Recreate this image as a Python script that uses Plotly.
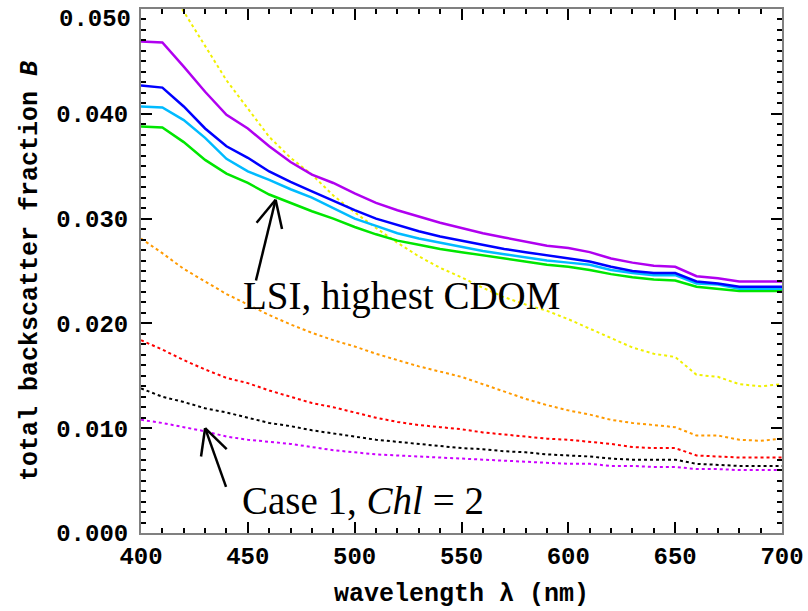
import plotly.graph_objects as go

# wavelength grid (nm)
wavelength = [400, 410, 420, 430, 440, 450, 460, 470, 480, 490, 500,
              510, 520, 530, 540, 550, 560, 570, 580, 590, 600,
              610, 620, 630, 640, 650, 660, 670, 680, 690, 700]

# solid curves (LSI)
lsi_purple = [0.0469, 0.0468, 0.0445, 0.0421, 0.0399, 0.0386, 0.0369, 0.0354, 0.0342, 0.0334, 0.0324,
              0.0315, 0.0308, 0.0302, 0.0296, 0.0291, 0.0286, 0.0282, 0.0278, 0.0274, 0.0272,
              0.0268, 0.0262, 0.0258, 0.0255, 0.0254, 0.0245, 0.0243, 0.0240, 0.0240, 0.0240]
lsi_blue = [0.0427, 0.0425, 0.0407, 0.0386, 0.0369, 0.0358, 0.0345, 0.0335, 0.0326, 0.0317, 0.0308,
            0.0300, 0.0294, 0.0288, 0.0283, 0.0279, 0.0275, 0.0271, 0.0268, 0.0265, 0.0262,
            0.0259, 0.0254, 0.0250, 0.0248, 0.0248, 0.0240, 0.0238, 0.0235, 0.0235, 0.0235]
lsi_cyan = [0.0407, 0.0406, 0.0394, 0.0377, 0.0357, 0.0345, 0.0337, 0.0328, 0.0320, 0.0310, 0.0300,
            0.0293, 0.0286, 0.0281, 0.0277, 0.0273, 0.0269, 0.0266, 0.0263, 0.0260, 0.0258,
            0.0256, 0.0251, 0.0248, 0.0246, 0.0246, 0.0238, 0.0237, 0.0233, 0.0233, 0.0233]
lsi_green = [0.0388, 0.0387, 0.0373, 0.0356, 0.0343, 0.0334, 0.0323, 0.0315, 0.0307, 0.0300, 0.0292,
             0.0285, 0.0279, 0.0275, 0.0271, 0.0268, 0.0265, 0.0262, 0.0259, 0.0256, 0.0254,
             0.0251, 0.0247, 0.0244, 0.0242, 0.0241, 0.0235, 0.0233, 0.0231, 0.0231, 0.0231]

# dotted curves (Case 1 / CDOM variants)
dot_yellow = [0.0563, 0.0530, 0.0497, 0.0464, 0.0432, 0.0405, 0.0378, 0.0358, 0.0342, 0.0322, 0.0306,
              0.0291, 0.0277, 0.0264, 0.0253, 0.0244, 0.0234, 0.0225, 0.0218, 0.0212, 0.0204,
              0.0195, 0.0186, 0.0177, 0.0171, 0.0168, 0.0151, 0.0149, 0.0142, 0.0140, 0.0142]
dot_orange = [0.0281, 0.0267, 0.0252, 0.0240, 0.0228, 0.0218, 0.0208, 0.0199, 0.0191, 0.0184, 0.0178,
              0.0171, 0.0165, 0.0159, 0.0154, 0.0149, 0.0142, 0.0135, 0.0128, 0.0122, 0.0117,
              0.0113, 0.0108, 0.0105, 0.0103, 0.0101, 0.0093, 0.0093, 0.0089, 0.0088, 0.0090]
dot_red = [0.0184, 0.0175, 0.0165, 0.0156, 0.0148, 0.0143, 0.0136, 0.0130, 0.0124, 0.0120, 0.0115,
           0.0110, 0.0106, 0.0103, 0.0101, 0.0099, 0.0096, 0.0094, 0.0092, 0.0090, 0.0089,
           0.0087, 0.0085, 0.0082, 0.0081, 0.0081, 0.0074, 0.0073, 0.0072, 0.0072, 0.0072]
dot_black = [0.0138, 0.0130, 0.0125, 0.0119, 0.0115, 0.0110, 0.0105, 0.0102, 0.0098, 0.0095, 0.0092,
             0.0089, 0.0087, 0.0085, 0.0083, 0.0081, 0.0080, 0.0078, 0.0077, 0.0075, 0.0074,
             0.0073, 0.0071, 0.0070, 0.0070, 0.0070, 0.0066, 0.0065, 0.0064, 0.0064, 0.0064]
dot_magenta = [0.0108, 0.0105, 0.0101, 0.0097, 0.0092, 0.0089, 0.0087, 0.0085, 0.0082, 0.0079, 0.0077,
               0.0075, 0.0074, 0.0073, 0.0072, 0.0071, 0.0070, 0.0069, 0.0068, 0.0067, 0.0066,
               0.0066, 0.0064, 0.0064, 0.0063, 0.0063, 0.0061, 0.0061, 0.0060, 0.0060, 0.0060]

series = [
    (dot_yellow, "#f0f000", "dot"),
    (dot_orange, "#ff9a00", "dot"),
    (dot_red, "#ff0000", "dot"),
    (dot_black, "#000000", "dot"),
    (dot_magenta, "#cc00ff", "dot"),
    (lsi_green, "#00e600", "solid"),
    (lsi_cyan, "#00bbff", "solid"),
    (lsi_blue, "#0000ff", "solid"),
    (lsi_purple, "#b000f0", "solid"),
]

x_ticks = [400, 450, 500, 550, 600, 650, 700]
y_ticks = [0.000, 0.010, 0.020, 0.030, 0.040, 0.050]
y_top_label = "0.050"

# annotation arrows: (tail, tip, left arm end, right arm end) in data units
arrows = [
    ((453.8, 0.0241), (463.0, 0.0318), (454.1, 0.0296), (466.0, 0.0290)),
    ((439.8, 0.0044), (430.0, 0.0100), (428.1, 0.0073), (440.1, 0.0080)),
]

fig = go.Figure()
for vals, color, style in series:
    if style == "solid":
        line = dict(color=color, width=2.5)
    else:
        line = dict(color=color, width=2, dash="3px,3px")
    fig.add_trace(go.Scatter(x=wavelength, y=vals, mode="lines", line=line,
                             showlegend=False, hoverinfo="skip"))

for tail, tip, la, ra in arrows:
    for p0, p1 in [(tail, tip), (tip, la), (tip, ra)]:
        fig.add_shape(type="line", x0=p0[0], y0=p0[1], x1=p1[0], y1=p1[1],
                      xref="x", yref="y", line=dict(color="black", width=2.5))

tickfont = dict(family="Liberation Mono", size=24, color="black", weight="bold")
titlefont = dict(family="Liberation Mono", size=25, color="black", weight="bold")
serif = dict(family="Liberation Serif", size=39, color="black")

fig.add_annotation(x=522, y=0.0226, xref="x", yref="y", text="LSI, highest CDOM",
                   showarrow=False, font=serif, xanchor="center", yanchor="middle")
fig.add_annotation(x=504, y=0.0031, xref="x", yref="y", text="Case 1, <i>Chl</i> = 2",
                   showarrow=False, font=serif, xanchor="center", yanchor="middle")

# top y tick label, nudged down into view as in the original figure
fig.add_annotation(x=0, xref="paper", y=y_ticks[-1], yref="y", text=y_top_label,
                   showarrow=False, font=tickfont, xanchor="right", yanchor="middle",
                   xshift=-8, yshift=-10)

axis_common = dict(showgrid=False, zeroline=False, showline=True, linecolor="#808080",
                   linewidth=2, mirror="ticks", ticks="inside", tickcolor="black",
                   tickwidth=1.5, ticklen=11, tickfont=tickfont, automargin=False)

fig.update_xaxes(range=[400, 700], tickvals=x_ticks, ticktext=[str(v) for v in x_ticks],
                 minor=dict(dtick=10, tick0=400, ticks="inside", ticklen=5,
                            tickcolor="black", tickwidth=1.5),
                 title=dict(text="wavelength λ (nm)", font=titlefont, standoff=14),
                 **axis_common)
fig.update_yaxes(range=[0, 0.050], tickvals=y_ticks,
                 ticktext=["%.3f" % v for v in y_ticks[:-1]] + [""],
                 minor=dict(dtick=0.001, tick0=0, ticks="inside", ticklen=5,
                            tickcolor="black", tickwidth=1.5),
                 title=dict(text="total backscatter fraction <i>B</i>", font=titlefont, standoff=11),
                 ticklabelstandoff=6,
                 **axis_common)

fig.update_layout(width=808, height=611, margin=dict(l=141, r=26, t=9, b=78),
                  paper_bgcolor="white", plot_bgcolor="white")

fig.write_html("out.html")
